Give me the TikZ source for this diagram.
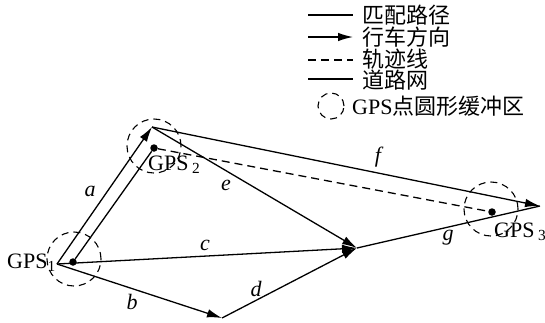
\documentclass[tikz,border=0pt]{standalone}
\usepackage{fontspec}
\setmainfont{Liberation Serif}
\newfontfamily\cjk{Noto Sans CJK SC}
\usetikzlibrary{positioning,arrows.meta}

\begin{document}
\begin{tikzpicture}[x=1pt,y=-1pt,>={Latex[length=15pt,width=8.5pt]},font=\fontsize{22}{25}\selectfont,node distance=9pt]
\tikzstyle{road}=[line width=1.3pt]
\tikzstyle{track}=[road,dash pattern=on 8pt off 5pt]
\tikzstyle{buffer}=[circle,draw,line width=1.1pt,dash pattern=on 7pt off 5pt,minimum size=54pt,inner sep=0pt]
\tikzstyle{gpsdot}=[circle,fill,inner sep=0pt,minimum size=7.5pt]
\tikzstyle{lbl}=[font=\fontsize{22}{25}\selectfont\itshape,inner sep=1pt]
\tikzstyle{gpslbl}=[inner sep=1pt]
\tikzstyle{legtext}=[anchor=west,inner sep=0pt,font=\fontsize{22}{25}\selectfont\cjk]
\useasboundingbox (0,0) rectangle (545,322);
% road network vertices
\coordinate (v1) at (57,264);
\coordinate (v2) at (152,127);
\coordinate (v3) at (357,248);
\coordinate (v4) at (222,318);
\coordinate (v5) at (540,206);
% GPS points and buffers
\node[buffer] (buf1) at (74,259) {};
\node[buffer] (buf2) at (154,146) {};
\node[buffer] (buf3) at (491,209) {};
\node[gpsdot] (p1) at (73,262) {};
\node[gpsdot] (p2) at (154,148) {};
\node[gpsdot] (p3) at (492,212) {};
\node[gpslbl,anchor=east] (g1) at (57,263) {GPS\textsubscript{1}};
\node[gpslbl,anchor=west] (g2) at (147,165) {GPS\,\textsubscript{2}};
\node[gpslbl,anchor=west] (g3) at (493,232) {GPS\,\textsubscript{3}};
% roads
\draw[road,->] (v1) -- (v2);
\draw[road,->] (v1) -- (v4);
\draw[road,->] (v1) -- (v3);
\draw[road,->] (v4) -- (v3);
\draw[road,->] (v2) -- (v3);
\draw[road,->] (v2) -- (v5);
\draw[road] (v3) -- (v5);
% matched path and trajectory
\draw[road] (p1) -- (p2);
\draw[track] (p2) -- (p3);
% road labels
\node[lbl] (la) at (90,191) {a};
\node[lbl] (lb) at (132,302) {b};
\node[lbl] (lc) at (205,245) {c};
\node[lbl] (ld) at (256,289) {d};
\node[lbl] (le) at (226,185) {e};
\node[lbl] (lf) at (378,157) {f};
\node[lbl] (lg) at (448,238) {g};
% legend
\coordinate (k1a) at (308,15);  \coordinate (k1b) at (353,15);
\coordinate (k2a) at (308,37);  \coordinate (k2b) at (353,37);
\coordinate (k3a) at (308,60);  \coordinate (k3b) at (353,60);
\coordinate (k4a) at (308,79);  \coordinate (k4b) at (353,79);
\draw[road] (k1a) -- (k1b);
\draw[road,->] (k2a) -- (k2b);
\draw[track] (k3a) -- (k3b);
\draw[road] (k4a) -- (k4b);
\node[buffer,minimum size=26pt] (k5) at (331,106) {};
\node[legtext] (t1) at (362,15) {匹配路径};
\node[legtext] (t2) at (362,37) {行车方向};
\node[legtext] (t3) at (362,59) {轨迹线};
\node[legtext] (t4) at (362,80) {道路网};
\node[legtext] (t5) at (352,106) {{\rmfamily GPS}点圆形缓冲区};
\end{tikzpicture}
\end{document}
